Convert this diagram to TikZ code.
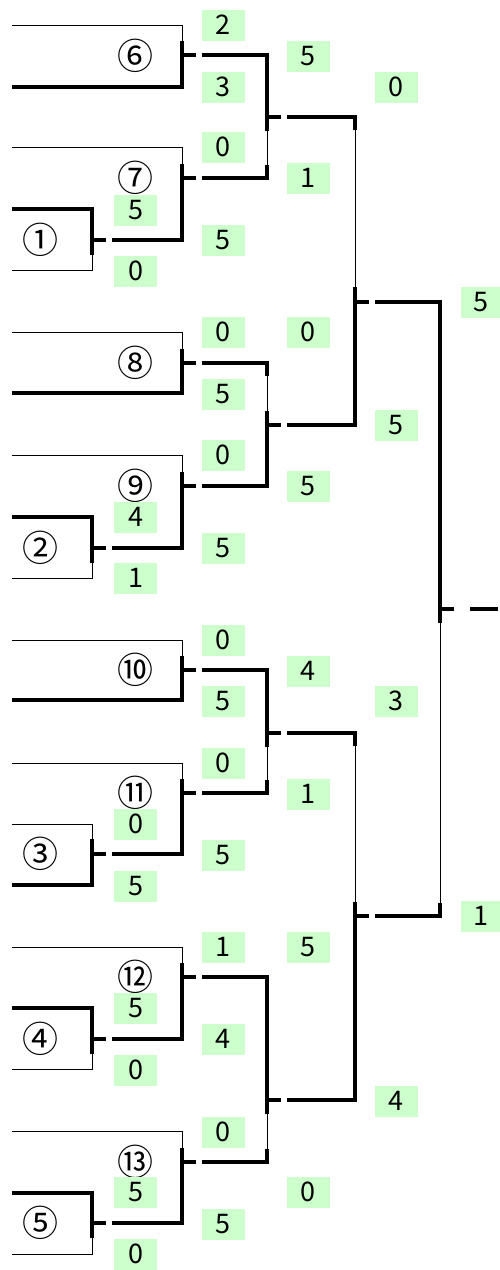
\documentclass[tikz,border=0pt]{standalone}
\usepackage{fontspec}
\setmainfont{Noto Sans CJK JP}
\usetikzlibrary{calc}
\definecolor{scoregreen}{RGB}{204,255,204}
\newcommand{\scorefont}{\fontsize{27}{27}\selectfont}
\newcommand{\seedfont}{\fontsize{36}{36}\selectfont}
\begin{document}
\begin{tikzpicture}[x=1pt,y=-1pt]
        \tikzstyle{win} = [line width=3.4pt]
        \tikzstyle{lose} = [line width=1pt]
        \tikzstyle{score} = [rectangle, fill=scoregreen, minimum width=43pt, minimum height=31pt, inner sep=0pt, font=\scorefont]
        \tikzstyle{seed} = [inner sep=0pt, font=\seedfont]
        \useasboundingbox (0,0) rectangle (500,1270);
        % match points
        \coordinate (s1) at (92,240);  \coordinate (s2) at (92,548);  \coordinate (s3) at (92,854);
        \coordinate (s4) at (92,1039); \coordinate (s5) at (92,1223);
        \coordinate (s6) at (182,55);  \coordinate (s7) at (182,178); \coordinate (s8) at (182,363);
        \coordinate (s9) at (182,486); \coordinate (s10) at (182,670); \coordinate (s11) at (182,793);
        \coordinate (s12) at (182,977); \coordinate (s13) at (182,1162);
        \coordinate (s67) at (267,117); \coordinate (s89) at (267,425);
        \coordinate (s1011) at (267,733); \coordinate (s1213) at (267,1100);
        \coordinate (sU) at (355,302); \coordinate (sL) at (355,916);
        \coordinate (sF) at (440,609);
        \coordinate (champ) at (498,609);
        % player lines
        \coordinate (e1t) at (12,209); \coordinate (e1b) at (12,270);
        \coordinate (e2t) at (12,517); \coordinate (e2b) at (12,578);
        \coordinate (e3t) at (12,824); \coordinate (e3b) at (12,885);
        \coordinate (e4t) at (12,1008); \coordinate (e4b) at (12,1069);
        \coordinate (e5t) at (12,1193); \coordinate (e5b) at (12,1254);
        \coordinate (e6t) at (12,25); \coordinate (e6b) at (12,87);
        \coordinate (e7t) at (12,147); \coordinate (e8t) at (12,332); \coordinate (e8b) at (12,393);
        \coordinate (e9t) at (12,455); \coordinate (e10t) at (12,640); \coordinate (e10b) at (12,700);
        \coordinate (e11t) at (12,763); \coordinate (e12t) at (12,947); \coordinate (e13t) at (12,1131);
        % outgoing lines
        \foreach \m in {1,2,3,4,5,6,7,8,9,10,11,12,13,67,89,1011,1213,U,L}
            \coordinate (o\m) at ($(s\m)+(20,0)$);
        % first round
        \draw[lose] (e1b) -| (s1); \draw[win] (e1t) -| ($(s1)+(0,15)$);
        \draw[lose] (e2b) -| (s2); \draw[win] (e2t) -| ($(s2)+(0,15)$);
        \draw[lose] (e3t) -| (s3); \draw[win] (e3b) -| ($(s3)+(0,-15)$);
        \draw[lose] (e4b) -| (s4); \draw[win] (e4t) -| ($(s4)+(0,15)$);
        \draw[lose] (e5b) -| (s5); \draw[win] (e5t) -| ($(s5)+(0,15)$);
        \draw[lose] (e6t) -| (s6); \draw[win] (e6b) -| ($(s6)+(0,-14)$);
        \draw[lose] (e7t) -| (s7); \draw[win] (o1) -| ($(s7)+(0,-14)$);
        \draw[lose] (e8t) -| (s8); \draw[win] (e8b) -| ($(s8)+(0,-14)$);
        \draw[lose] (e9t) -| (s9); \draw[win] (o2) -| ($(s9)+(0,-14)$);
        \draw[lose] (e10t) -| (s10); \draw[win] (e10b) -| ($(s10)+(0,-14)$);
        \draw[lose] (e11t) -| (s11); \draw[win] (o3) -| ($(s11)+(0,-14)$);
        \draw[lose] (e12t) -| (s12); \draw[win] (o4) -| ($(s12)+(0,-14)$);
        \draw[lose] (e13t) -| (s13); \draw[win] (o5) -| ($(s13)+(0,-14)$);
        % second round
        \draw[lose] (o7) -| (s67); \draw[win] (o7) -| ($(o7 -| s67)+(0,-13)$);
        \draw[win] (o6) -| ($(s67)+(0,14)$);
        \draw[lose] (o8) -| (s89); \draw[win] (o8) -| ($(o8 -| s89)+(0,13)$);
        \draw[win] (o9) -| ($(s89)+(0,-14)$);
        \draw[lose] (o11) -| (s1011); \draw[win] (o11) -| ($(o11 -| s1011)+(0,-13)$);
        \draw[win] (o10) -| ($(s1011)+(0,14)$);
        \draw[lose] (o13) -| (s1213); \draw[win] (o13) -| ($(o13 -| s1213)+(0,-13)$);
        \draw[win] (o12) -| ($(s1213)+(0,14)$);
        % semi finals and final
        \draw[lose] (o67) -| (sU); \draw[win] (o67) -| ($(o67 -| sU)+(0,13)$);
        \draw[win] (o89) -| ($(sU)+(0,-15)$);
        \draw[lose] (o1011) -| (sL); \draw[win] (o1011) -| ($(o1011 -| sL)+(0,13)$);
        \draw[win] (o1213) -| ($(sL)+(0,-14)$);
        \draw[lose] (oL) -| (sF); \draw[win] (oL) -| ($(oL -| sF)+(0,-13)$);
        \draw[win] (oU) -| ($(sF)+(0,14)$);
        \foreach \m in {1,2,3,4,5,6,7,8,9,10,11,12,13,67,89,1011,1213,U,L,F}
            \draw[win] (s\m) -- ++(14,0);
        \draw[win] ($(sF)+(30,0)$) -- (champ);
        % seeds
        \node[seed] (n1) at (40,240) {①};
        \node[seed] (n2) at (40,548) {②};
        \node[seed] (n3) at (40,854) {③};
        \node[seed] (n4) at (40,1039) {④};
        \node[seed] (n5) at (40,1223) {⑤};
        \node[seed] (n6) at (135,56) {⑥};
        \node[seed] (n7) at (135,178) {⑦};
        \node[seed] (n8) at (135,363) {⑧};
        \node[seed] (n9) at (135,486) {⑨};
        \node[seed] (n10) at (135,670) {⑩};
        \node[seed] (n11) at (135,793) {⑪};
        \node[seed] (n12) at (135,977) {⑫};
        \node[seed] (n13) at (135,1162) {⑬};
        % scores
        \node[score] (sc6t) at (223,25) {2};   \node[score] (sc6b) at (223,87) {3};
        \node[score] (sc7t) at (223,147) {0};  \node[score] (sc7b) at (223,240) {5};
        \node[score] (sc8t) at (223,332) {0};  \node[score] (sc8b) at (223,394) {5};
        \node[score] (sc9t) at (223,455) {0};  \node[score] (sc9b) at (223,548) {5};
        \node[score] (sc10t) at (223,640) {0}; \node[score] (sc10b) at (223,701) {5};
        \node[score] (sc11t) at (223,763) {0}; \node[score] (sc11b) at (223,855) {5};
        \node[score] (sc12t) at (223,947) {1}; \node[score] (sc12b) at (223,1039) {4};
        \node[score] (sc13t) at (223,1132) {0}; \node[score] (sc13b) at (223,1224) {5};
        \node[score] (sc1t) at (135.5,210) {5};  \node[score] (sc1b) at (135.5,271) {0};
        \node[score] (sc2t) at (135.5,517) {4};  \node[score] (sc2b) at (135.5,578) {1};
        \node[score] (sc3t) at (135.5,824) {0};  \node[score] (sc3b) at (135.5,886) {5};
        \node[score] (sc4t) at (135.5,1008) {5}; \node[score] (sc4b) at (135.5,1070) {0};
        \node[score] (sc5t) at (135.5,1192) {5}; \node[score] (sc5b) at (135.5,1254) {0};
        \node[score] (sc67t) at (308,56) {5};    \node[score] (sc67b) at (308,178) {1};
        \node[score] (sc89t) at (308,332) {0};   \node[score] (sc89b) at (308,486) {5};
        \node[score] (sc1011t) at (308,671) {4}; \node[score] (sc1011b) at (308,794) {1};
        \node[score] (sc1213t) at (308,947) {5}; \node[score] (sc1213b) at (308,1192) {0};
        \node[score] (scUt) at (396,87) {0};     \node[score] (scUb) at (396,425) {5};
        \node[score] (scLt) at (396,701) {3};    \node[score] (scLb) at (396,1101) {4};
        \node[score, minimum width=39pt] (scFt) at (480.5,302) {5};
        \node[score, minimum width=39pt] (scFb) at (480.5,916) {1};
\end{tikzpicture}
\end{document}
